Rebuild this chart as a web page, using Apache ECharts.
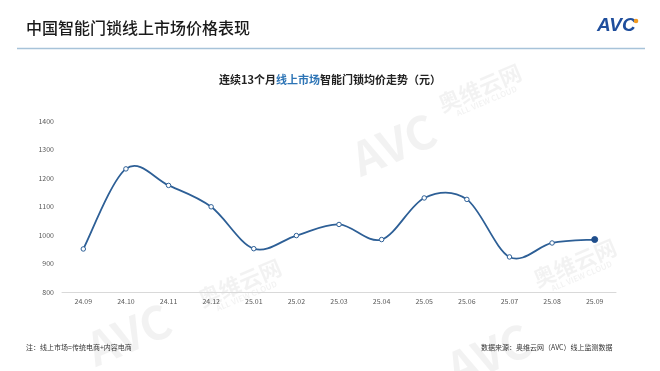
<!DOCTYPE html>
<html><head><meta charset="utf-8">
<script src="https://cdn.jsdelivr.net/npm/echarts@6/dist/echarts.min.js"></script>
<style>html,body{margin:0;padding:0;background:#fff}#c{width:660px;height:371px}</style>
</head><body><div id="c"></div>
<script>
const months = ['24.09','24.10','24.11','24.12','25.01','25.02','25.03','25.04','25.05','25.06','25.07','25.08','25.09'];
const avgPrice = [951, 1232, 1174, 1099, 952, 998, 1037, 984, 1130, 1125, 923, 972, 984];
const yTicks = [800, 900, 1000, 1100, 1200, 1300, 1400];

const chart = echarts.init(document.getElementById('c'));
const font = '"Noto Sans CJK SC","Noto Sans",sans-serif';
const wm = (x, y, text, size, rot) => ({type:'text', x, y, rotation: rot, silent:true, z:0,
  style:{text, fill:'rgba(0,0,0,0.05)', font:'bold '+size+'px '+font}});
const lastIdx = avgPrice.length - 1;
const n = avgPrice.length;

// Catmull-Rom style smooth segment (like spreadsheet smoothed lines), positioned via the chart's own scales
function renderSegment(params, api) {
  const i = params.dataIndex;
  if (i >= n - 1) return null;
  const P = k => api.coord([Math.max(0, Math.min(n - 1, k)), avgPrice[Math.max(0, Math.min(n - 1, k))]]);
  const p0 = P(i - 1), p1 = P(i), p2 = P(i + 1), p3 = P(i + 2);
  return {
    type:'bezierCurve',
    shape:{x1:p1[0], y1:p1[1], x2:p2[0], y2:p2[1],
      cpx1:p1[0] + (p2[0] - p0[0]) / 6, cpy1:p1[1] + (p2[1] - p0[1]) / 6,
      cpx2:p2[0] - (p3[0] - p1[0]) / 6, cpy2:p2[1] - (p3[1] - p1[1]) / 6},
    style:{stroke:'#2d5f96', lineWidth:1.8, fill:null}
  };
}

chart.setOption({
  animation:false,
  textStyle:{fontFamily:font},
  grid:{left:62, right:44, top:121, bottom:79},
  xAxis:{type:'category', data:months, boundaryGap:true,
    axisLine:{lineStyle:{color:'#d9d9d9'}}, axisTick:{show:false},
    axisLabel:{color:'#595959', fontSize:7, margin:6}},
  yAxis:{type:'value', min:yTicks[0], max:yTicks[yTicks.length-1], interval:100,
    axisLine:{show:false}, axisTick:{show:false}, splitLine:{show:false},
    axisLabel:{color:'#595959', fontSize:7, margin:8, formatter:v=>String(v)}},
  graphic:[
    wm(345,140,'AVC',46,0.4), wm(435,95,'奥维云网',22,0.4), wm(455,110,'ALL VIEW CLOUD',8,0.4),
    wm(80,330,'AVC',46,0.4), wm(195,290,'奥维云网',22,0.4), wm(215,305,'ALL VIEW CLOUD',8,0.4),
    wm(440,350,'AVC',46,0.4), wm(530,270,'奥维云网',22,0.4), wm(550,285,'ALL VIEW CLOUD',8,0.4),
    {type:'text', left:26, top:20, style:{text:'中国智能门锁线上市场价格表现', fill:'#1a1a1a', font:'500 16px '+font}},
    {type:'line', shape:{x1:17, y1:48.5, x2:645, y2:48.5}, style:{stroke:'#a7c3d9', lineWidth:1.5}},
    {type:'text', left:597, top:16, style:{text:'AVC', fill:'#1f4e9c', font:'italic bold 19px "Liberation Sans",sans-serif'}},
    {type:'circle', shape:{cx:636, cy:21, r:2.3}, style:{fill:'#f29a1f'}},
    {type:'text', left:'center', top:74, style:{rich:{
        a:{fill:'#222', font:'bold 11px '+font},
        b:{fill:'#2e75b6', font:'bold 11px '+font}},
      text:'{a|连续13个月}{b|线上市场}{a|智能门锁均价走势（元）}'}},
    {type:'text', left:26, top:344, style:{text:'注：线上市场=传统电商+内容电商', fill:'#333', font:'7px '+font}},
    {type:'text', left:481, top:344, style:{text:'数据来源：奥维云网（AVC）线上监测数据', fill:'#333', font:'7px '+font}}
  ],
  series:[
    {type:'custom', data:avgPrice.map((v,i)=>[i,v]), renderItem:renderSegment, z:2, silent:true},
    {type:'line', data:avgPrice.map((v,i)=> i===lastIdx ? {value:v, symbolSize:6, itemStyle:{color:'#1f4e8c', borderColor:'#1f4e8c'}} : v),
      symbol:'circle', symbolSize:4.5, z:3,
      lineStyle:{opacity:0, width:0},
      itemStyle:{color:'#fff', borderColor:'#2d5f96', borderWidth:1}}
  ]
});
</script></body></html>
